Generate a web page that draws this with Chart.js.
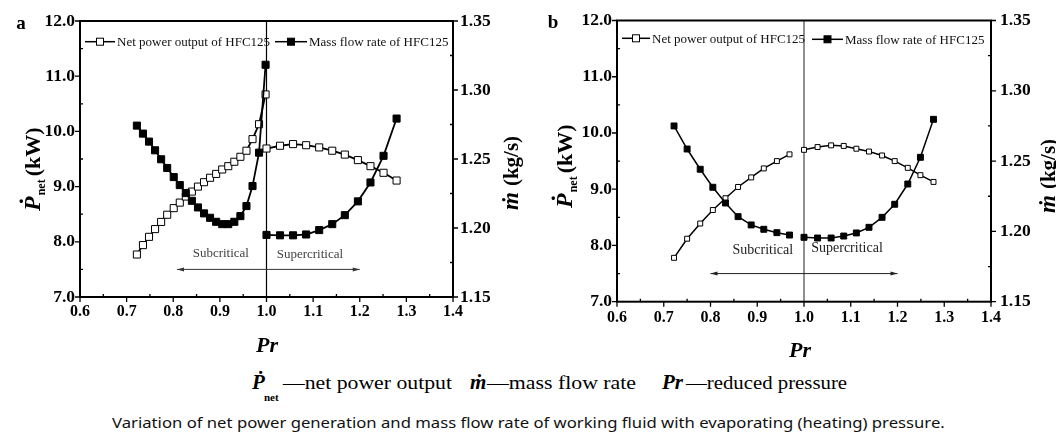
<!DOCTYPE html>
<html>
<head>
<meta charset="utf-8">
<script src="https://cdn.jsdelivr.net/npm/chart.js@4.4.1/dist/chart.umd.min.js"></script>
<style>
  body { margin: 0; background: #fff; }
  #page { position: relative; width: 1056px; height: 439px; overflow: hidden; background: #fff; }
  #page canvas { position: absolute; top: 0; }
  #chartA { left: 0; }
  #chartB { left: 528px; }
  .t { position: absolute; white-space: nowrap; color: #000; font-family: "Liberation Serif", "DejaVu Serif", serif; transform-origin: 0 50%; }
  .sym { font-weight: bold; font-style: italic; font-size: 21px; line-height: 21px; }
  .sub { font-weight: bold; font-size: 11px; line-height: 11px; }
  .key { font-size: 18px; line-height: 18px; }
  #caption { font-family: "Noto Sans", "DejaVu Sans", sans-serif; font-size: 15px; line-height: 16px; color: #111; }
</style>
</head>
<body>
<div id="page">
  <canvas id="chartA" width="528" height="368"></canvas>
  <canvas id="chartB" width="528" height="368"></canvas>

  <span class="t sym" style="left:252px; top:372px;">Ṗ</span>
  <span class="t sub" style="left:264px; top:392px;">net</span>
  <span class="t key" style="left:283px; top:374px;" data-w="169">—net power output</span>
  <span class="t sym" style="left:470px; top:372px;">ṁ</span>
  <span class="t key" style="left:487px; top:374px;" data-w="149">—mass flow rate</span>
  <span class="t sym" style="left:662px; top:372px;">Pr</span>
  <span class="t key" style="left:686px; top:374px;" data-w="161">—reduced pressure</span>

  <span id="caption" class="t" style="left:112px; top:414px;" data-w="833">Variation of net power generation and mass flow rate of working fluid with evaporating (heating) pressure.</span>
</div>

<script>
// ---- panel a: reduced pressure and values ----
const prSubA = [0.722, 0.735, 0.748, 0.761, 0.774, 0.787, 0.801, 0.814, 0.827, 0.840, 0.853,
                0.866, 0.879, 0.892, 0.905, 0.918, 0.931, 0.944, 0.957, 0.970, 0.984, 0.998];
const pnetSubA = [7.77, 7.94, 8.09, 8.23, 8.36, 8.49, 8.61, 8.71, 8.82, 8.91, 9.00,
                  9.08, 9.16, 9.23, 9.31, 9.37, 9.45, 9.54, 9.65, 9.86, 10.13, 10.67];
const massSubA = [1.2742, 1.2684, 1.2626, 1.2563, 1.2498, 1.2435, 1.2369, 1.2311, 1.2253, 1.2197, 1.2149,
                  1.2106, 1.2074, 1.2045, 1.2028, 1.2028, 1.2045, 1.2086, 1.2159, 1.2304, 1.2546, 1.3183];
const prSupA = [1.000, 1.029, 1.057, 1.085, 1.113, 1.141, 1.168, 1.196, 1.223, 1.251, 1.279];
const pnetSupA = [9.69, 9.74, 9.77, 9.75, 9.71, 9.65, 9.58, 9.48, 9.37, 9.25, 9.11];
const massSupA = [1.1950, 1.1947, 1.1947, 1.1953, 1.1985, 1.2028, 1.2093, 1.2193, 1.2330, 1.2523, 1.2793];

// ---- panel b ----
const prSubB = [0.722, 0.750, 0.778, 0.805, 0.832, 0.859, 0.887, 0.914, 0.942, 0.969];
const pnetSubB = [7.78, 8.12, 8.39, 8.63, 8.84, 9.04, 9.21, 9.37, 9.50, 9.62];
const massSubB = [1.2750, 1.2586, 1.2442, 1.2314, 1.2202, 1.2105, 1.2046, 1.2015, 1.1991, 1.1974];
const prSupB = [1.000, 1.029, 1.058, 1.085, 1.112, 1.139, 1.167, 1.194, 1.222, 1.249, 1.277];
const pnetSupB = [9.70, 9.75, 9.78, 9.77, 9.72, 9.67, 9.60, 9.50, 9.38, 9.25, 9.13];
const massSupB = [1.1958, 1.1953, 1.1953, 1.1967, 1.1989, 1.2029, 1.2100, 1.2193, 1.2337, 1.2527, 1.2797];

// ---- axes ----
const prRange = [0.6, 1.4];
const pnetRange = [7, 12];
const massRange = [1.15, 1.35];
const prStep = 0.1, pnetStep = 1, massStep = 0.05;

const legendLabels = ["Net power output of HFC125", "Mass flow rate of HFC125"];
const regionLabels = ["Subcritical", "Supercritical"];

const SERIF = "'Liberation Serif', 'DejaVu Serif', serif";

function pts(xs, ys) {
    return xs.map((x, i) => ({ x: x, y: ys[i] }));
}

// square marker like the original, open or filled
function drawSquare(ctx, x, y, side, filled) {
    ctx.fillStyle = filled ? "#000" : "#fff";
    ctx.fillRect(x - side / 2, y - side / 2, side, side);
    ctx.strokeStyle = "#000";
    ctx.lineWidth = 1;
    ctx.strokeRect(x - side / 2, y - side / 2, side, side);
}

// rotated axis title, pieces go bottom -> top
function drawRotated(ctx, x, y, pieces) {
    ctx.save();
    ctx.translate(x, y);
    ctx.rotate(-Math.PI / 2);
    ctx.textBaseline = "alphabetic";
    ctx.textAlign = "left";
    ctx.fillStyle = "#000";
    let u = 0;
    pieces.forEach(p => {
        ctx.font = p.font;
        ctx.fillText(p.text, u, p.dy || 0);
        u += ctx.measureText(p.text).width + (p.gap || 0);
    });
    ctx.restore();
}

const panelDeco = {
    id: "panelDeco",
    beforeDatasetsDraw(chart, args, o) {
        const ctx = chart.ctx;
        const a = chart.chartArea;
        const xs = chart.scales.x, ys = chart.scales.y;
        ctx.save();
        // Pr = 1 divider
        const x1 = xs.getPixelForValue(1.0);
        ctx.strokeStyle = o.vline.color;
        ctx.lineWidth = o.vline.width;
        ctx.beginPath();
        ctx.moveTo(x1, a.top);
        ctx.lineTo(x1, a.bottom);
        ctx.stroke();

        // double arrow
        const ax0 = xs.getPixelForValue(o.arrow.from);
        const ax1 = xs.getPixelForValue(o.arrow.to);
        const ay = ys.getPixelForValue(o.arrow.y);
        ctx.strokeStyle = o.arrow.color;
        ctx.fillStyle = o.arrow.color;
        ctx.lineWidth = 1;
        ctx.beginPath();
        ctx.moveTo(ax0, ay);
        ctx.lineTo(ax1, ay);
        ctx.stroke();
        [[ax0, 1], [ax1, -1]].forEach(([px, d]) => {
            ctx.beginPath();
            ctx.moveTo(px, ay);
            ctx.lineTo(px + d * 7, ay - 2);
            ctx.lineTo(px + d * 7, ay + 2);
            ctx.closePath();
            ctx.fill();
        });

        // region names
        ctx.textAlign = "center";
        ctx.textBaseline = "middle";
        o.texts.forEach((t, i) => {
            ctx.font = t.size + "px " + SERIF;
            ctx.fillStyle = t.color;
            ctx.fillText(regionLabels[i], xs.getPixelForValue(t.x), ys.getPixelForValue(t.y));
        });
        ctx.restore();
    },
    afterDatasetsDraw(chart, args, o) {
        const ctx = chart.ctx;
        const a = chart.chartArea;
        const xs = chart.scales.x, ys = chart.scales.y, ys1 = chart.scales.y1;
        ctx.save();

        // frame
        ctx.strokeStyle = "#000";
        ctx.lineWidth = o.frame;
        ctx.strokeRect(a.left, a.top, a.right - a.left, a.bottom - a.top);

        // ticks: major outward, minor inward
        ctx.lineWidth = 1.3;
        ctx.beginPath();
        xs.ticks.forEach((t, i) => {
            const p = xs.getPixelForValue(t.value);
            ctx.moveTo(p, a.bottom); ctx.lineTo(p, a.bottom + 5);
            if (i < xs.ticks.length - 1) {
                const m = xs.getPixelForValue(t.value + prStep / 2);
                ctx.moveTo(m, a.bottom); ctx.lineTo(m, a.bottom - 3);
            }
        });
        ys.ticks.forEach((t, i) => {
            const p = ys.getPixelForValue(t.value);
            ctx.moveTo(a.left, p); ctx.lineTo(a.left - 5, p);
            if (i < ys.ticks.length - 1) {
                const m = ys.getPixelForValue(t.value + pnetStep / 2);
                ctx.moveTo(a.left, m); ctx.lineTo(a.left + 3, m);
            }
        });
        ys1.ticks.forEach((t, i) => {
            const p = ys1.getPixelForValue(t.value);
            ctx.moveTo(a.right, p); ctx.lineTo(a.right + 5, p);
            if (i < ys1.ticks.length - 1) {
                const m = ys1.getPixelForValue(t.value + massStep / 2);
                ctx.moveTo(a.right, m); ctx.lineTo(a.right - 3, m);
            }
        });
        ctx.stroke();

        // tick labels, from the scales' own ticks
        ctx.fillStyle = "#000";
        ctx.font = "bold " + o.tickSize.x + "px " + SERIF;
        ctx.textAlign = "center";
        ctx.textBaseline = "top";
        xs.ticks.forEach(t => {
            ctx.fillText(t.value.toFixed(1), xs.getPixelForValue(t.value), a.bottom + o.pad.x);
        });
        ctx.font = "bold " + o.tickSize.y + "px " + SERIF;
        ctx.textAlign = "right";
        ctx.textBaseline = "middle";
        ys.ticks.forEach(t => {
            ctx.fillText(t.value.toFixed(1), a.left - o.pad.left, ys.getPixelForValue(t.value));
        });
        ctx.textAlign = "left";
        ys1.ticks.forEach(t => {
            ctx.fillText(t.value.toFixed(2), a.right + o.pad.right, ys1.getPixelForValue(t.value));
        });

        // legend inside the frame
        ctx.textAlign = "left";
        ctx.textBaseline = "middle";
        ctx.font = "13px " + SERIF;
        o.legend.forEach((l, i) => {
            ctx.strokeStyle = "#000";
            ctx.lineWidth = 1.5;
            ctx.beginPath();
            ctx.moveTo(l.x0, l.y);
            ctx.lineTo(l.x1, l.y);
            ctx.stroke();
            drawSquare(ctx, (l.x0 + l.x1) / 2, l.y, 7, i === 1);
            ctx.fillStyle = "#111";
            ctx.fillText(legendLabels[i], l.x1 + 2, l.y + 1);
        });

        // panel letter
        ctx.fillStyle = "#000";
        ctx.textAlign = "center";
        ctx.font = "bold 19px " + SERIF;
        ctx.fillText(o.letter, o.letterPos[0], o.letterPos[1]);

        // x title
        ctx.font = "bold italic 22px " + SERIF;
        ctx.fillText("Pr", o.prTitle[0], o.prTitle[1]);

        // y titles
        drawRotated(ctx, o.leftTitle[0], o.leftTitle[1], [
            { text: "Ṗ", font: "bold italic 24px " + SERIF, gap: 1 },
            { text: "net", font: "bold 12px " + SERIF, dy: 5, gap: 3 },
            { text: "(kW)", font: "bold 22px " + SERIF }
        ]);
        drawRotated(ctx, o.rightTitle[0], o.rightTitle[1], [
            { text: "ṁ", font: "bold italic 23px " + SERIF, gap: 6 },
            { text: "(kg/s)", font: "bold 21px " + SERIF }
        ]);
        ctx.restore();
    }
};

function makePanel(canvasId, series, look, area, deco) {
    const canvas = document.getElementById(canvasId);
    const W = canvas.width, H = canvas.height;
    const line = (data, axis, filled, r) => ({
        data: data,
        yAxisID: axis,
        borderColor: "#000",
        borderWidth: look.lineWidth,
        pointStyle: "rect",
        pointRadius: r,
        pointBackgroundColor: filled ? "#000" : "#fff",
        pointBorderColor: "#000",
        pointBorderWidth: 1,
        fill: false,
        tension: 0
    });
    const hidden = { display: false };

    return new Chart(canvas, {
        type: "line",
        data: {
            datasets: [
                line(pts(series.prSub, series.massSub), "y1", true, look.filledR),
                line(pts(series.prSup, series.massSup), "y1", true, look.filledR),
                line(pts(series.prSub, series.pnetSub), "y", false, look.openR),
                line(pts(series.prSup, series.pnetSup), "y", false, look.openR)
            ]
        },
        options: {
            responsive: false,
            animation: false,
            events: [],
            layout: { padding: { top: area.top, left: 0, right: 0, bottom: 0 } },
            plugins: {
                legend: { display: false },
                tooltip: { enabled: false },
                panelDeco: deco
            },
            scales: {
                x: {
                    type: "linear",
                    min: prRange[0], max: prRange[1],
                    grid: hidden, border: hidden,
                    ticks: { stepSize: prStep, display: false },
                    afterFit: s => { s.height = H - area.bottom; }
                },
                y: {
                    position: "left",
                    min: pnetRange[0], max: pnetRange[1],
                    grid: hidden, border: hidden,
                    ticks: { stepSize: pnetStep, display: false },
                    afterFit: s => { s.width = area.left; }
                },
                y1: {
                    position: "right",
                    min: massRange[0], max: massRange[1],
                    grid: hidden, border: hidden,
                    ticks: { stepSize: massStep, display: false },
                    afterFit: s => { s.width = W - area.right; }
                }
            }
        },
        plugins: [panelDeco]
    });
}

makePanel("chartA",
    { prSub: prSubA, pnetSub: pnetSubA, massSub: massSubA, prSup: prSupA, pnetSup: pnetSupA, massSup: massSupA },
    { lineWidth: 1.8, openR: 5, filledR: 5 },
    { left: 80, right: 453, top: 21, bottom: 297 },
    {
        letter: "a", letterPos: [21, 24],
        frame: 2,
        tickSize: { x: 16, y: 17.5 },
        pad: { x: 7, left: 5, right: 7 },
        vline: { color: "#000", width: 1.2 },
        arrow: { from: 0.808, to: 1.2, y: 7.5, color: "#333" },
        texts: [{ x: 0.902, y: 7.79, size: 13, color: "#444" }, { x: 1.093, y: 7.76, size: 13, color: "#444" }],
        legend: [{ x0: 85, x1: 115, y: 41.7 }, { x0: 275, x1: 307, y: 41.7 }],
        prTitle: [267, 346],
        leftTitle: [40, 211],
        rightTitle: [518, 210]
    });

makePanel("chartB",
    { prSub: prSubB, pnetSub: pnetSubB, massSub: massSubB, prSup: prSupB, pnetSup: pnetSupB, massSup: massSupB },
    { lineWidth: 1.5, openR: 3.5, filledR: 4.2 },
    { left: 89, right: 463, top: 20.5, bottom: 301.7 },
    {
        letter: "b", letterPos: [25, 23],
        frame: 2,
        tickSize: { x: 16, y: 17.5 },
        pad: { x: 8, left: 5, right: 9 },
        vline: { color: "#6b6b6b", width: 1.5 },
        arrow: { from: 0.8, to: 1.2, y: 7.5, color: "#222" },
        texts: [{ x: 0.912, y: 7.92, size: 14, color: "#222" }, { x: 1.092, y: 7.95, size: 14, color: "#222" }],
        legend: [{ x0: 94, x1: 122, y: 38.3 }, { x0: 284, x1: 315, y: 39.3 }],
        prTitle: [272, 351],
        leftTitle: [44, 208],
        rightTitle: [527, 213]
    });

// stretch the text lines under the panels to the widths they have in the figure
document.querySelectorAll("[data-w]").forEach(el => {
    const w = el.getBoundingClientRect().width;
    el.style.transform = "scaleX(" + (parseFloat(el.dataset.w) / w).toFixed(3) + ")";
});
</script>
</body>
</html>
